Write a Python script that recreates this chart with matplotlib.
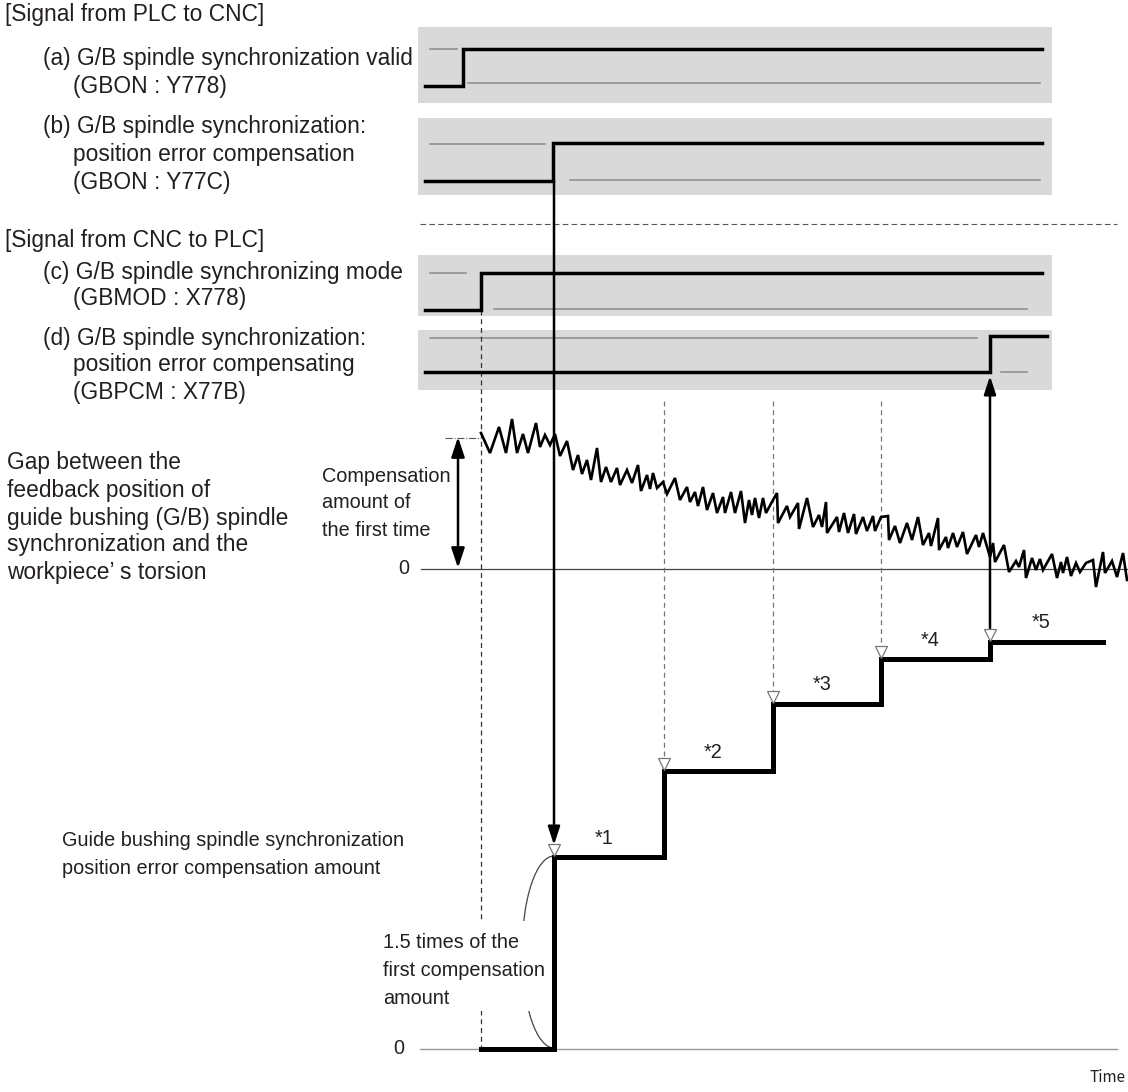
import matplotlib.pyplot as plt
from matplotlib.patches import Rectangle, Arc

plt.rcParams['font.family'] = ['Liberation Sans', 'DejaVu Sans']

# switching points of the four signals (along the time axis)
a_on, b_on, c_on, d_on = 463, 553, 481, 990

# compensation amount staircase
step_x = [481, 554, 664, 773, 881, 990, 1103]
step_y = [1049, 857, 771, 704, 659, 642, 642]
step_labels = ['*1', '*2', '*3', '*4', '*5']

# gap between feedback position and workpiece torsion
gap_x = [481, 490, 499, 506, 512, 517, 523, 528, 536, 540, 545, 550, 555, 560, 567, 573,
         578, 582, 587, 591, 597, 601, 606, 611, 617, 620, 627, 632, 638, 641, 647, 650,
         653, 657, 663, 667, 675, 680, 687, 690, 695, 698, 703, 707, 713, 717, 723, 725,
         731, 735, 741, 745, 749, 752, 755, 759, 763, 766, 773, 777, 778, 787, 790, 798,
         799, 807, 813, 819, 822, 826, 827, 837, 839, 844, 848, 854, 856, 863, 867, 873,
         875, 881, 888, 889, 895, 900, 907, 912, 918, 923, 929, 931, 938, 939, 946, 948,
         953, 957, 963, 967, 976, 979, 983, 990, 993, 995, 1004, 1009, 1016, 1019, 1024,
         1026, 1032, 1036, 1040, 1043, 1052, 1057, 1061, 1063, 1067, 1071, 1076, 1080,
         1086, 1093, 1096, 1103, 1105, 1112, 1117, 1123, 1127]
gap_y = [433, 453, 427, 453, 419, 453, 434, 453, 423, 447, 435, 445, 434, 456, 441, 470,
         455, 474, 460, 480, 448, 482, 467, 482, 468, 485, 470, 483, 465, 491, 475, 489,
         473, 488, 482, 494, 478, 500, 487, 502, 492, 506, 487, 510, 493, 513, 497, 513,
         492, 513, 491, 523, 500, 515, 498, 518, 498, 513, 500, 493, 523, 506, 517, 503,
         529, 498, 527, 515, 527, 502, 533, 517, 532, 513, 533, 514, 534, 517, 531, 516,
         531, 517, 516, 540, 526, 543, 523, 540, 517, 545, 533, 546, 518, 550, 537, 548,
         533, 547, 532, 554, 535, 547, 533, 557, 543, 562, 545, 572, 561, 567, 550,
         578, 558, 570, 559, 570, 554, 578, 562, 573, 557, 576, 563, 572,
         563, 560, 587, 552, 573, 561, 577, 553, 580]

ink = '#231f20'
panel_c = '#d9d9d9'
thin_c = '#8a8a8a'

fig = plt.figure(figsize=(11.28, 10.92), dpi=100)
ax = fig.add_axes([0, 0, 1, 1])
ax.set_xlim(0, 1128)
ax.set_ylim(1092, 0)
ax.axis('off')


def signal(top, bot, hi, lo, t_on, x_end, ghi, glo):
    ax.add_patch(Rectangle((418, top), 1052 - 418, bot - top, color=panel_c, lw=0, zorder=0))
    ax.plot([ghi[0], ghi[1]], [ghi[2], ghi[2]], color=thin_c, lw=1.1, zorder=1)
    ax.plot([glo[0], glo[1]], [glo[2], glo[2]], color=thin_c, lw=1.1, zorder=1)
    ax.plot([425, t_on, t_on, x_end], [lo, lo, hi, hi], color='black', lw=2.5,
            solid_joinstyle='miter', zorder=3)


signal(27, 103, 49, 86, a_on, 1042, (430, 457, 49), (468, 1040, 83))
signal(118, 195, 143, 181, b_on, 1042, (430, 545, 144), (570, 1040, 180))
signal(255, 316, 273, 310, c_on, 1042, (430, 466, 273), (494, 1027, 309))
signal(330, 390, 336, 372, d_on, 1047, (430, 977, 338), (1001, 1027, 372))

# separator between the two signal groups
ax.plot([420, 1117], [224, 224], color='#555555', lw=0.8, ls=(0, (5, 3)))

# left-hand labels
big = 16.4
left_text = [
    ('[Signal from PLC to CNC]', 5, 14),
    ('(a) G/B spindle synchronization valid', 43, 59),
    ('(GBON : Y778)', 73, 86),
    ('(b) G/B spindle synchronization:', 43, 126),
    ('position error compensation', 73, 155),
    ('(GBON : Y77C)', 73, 183),
    ('[Signal from CNC to PLC]', 5, 241),
    ('(c) G/B spindle synchronizing mode', 43, 272),
    ('(GBMOD : X778)', 73, 298),
    ('(d) G/B spindle synchronization:', 43, 338),
    ('position error compensating', 73, 365),
    ('(GBPCM : X77B)', 73, 392),
    ('Gap between the', 7, 462),
    ('feedback position of', 7, 490),
    ('guide bushing (G/B) spindle', 7, 518),
    ('synchronization and the', 7, 545),
    ('workpiece\u2019 s torsion', 7, 573),
]
for s, x, y in left_text:
    ax.text(x, y, s, fontsize=big, color=ink, ha='left', va='center')

small = 14.3
for s, y in [('Compensation', 477), ('amount of', 503), ('the first time', 530)]:
    ax.text(322, y, s, fontsize=small, color=ink, ha='left', va='center')
ax.text(62, 841, 'Guide bushing spindle synchronization', fontsize=small, color=ink, va='center')
ax.text(62, 868, 'position error compensation amount', fontsize=small, color=ink, va='center')

# gap trace and its zero line
ax.plot([421, 1128], [569, 569], color='#444444', lw=0.9, zorder=1)
ax.text(404, 568, '0', fontsize=small, color=ink, ha='center', va='center')
ax.plot(gap_x, gap_y, color='black', lw=1.9, solid_joinstyle='miter', zorder=3)
ax.plot([445, 481], [438, 438], color='#555555', lw=0.8, ls='-.')
ax.annotate('', xy=(458, 437), xytext=(458, 568),
            arrowprops=dict(arrowstyle='<|-|>,head_length=0.6,head_width=0.2', color='black',
                            lw=1.8, mutation_scale=20, shrinkA=0, shrinkB=0))

# time reference lines
ax.plot([c_on, c_on], [310, 1049], color='#333333', lw=0.9, ls=(0, (4, 3)), zorder=1)
for i in range(2, 5):
    ax.plot([step_x[i], step_x[i]], [401, step_y[i] - 13], color='#777777', lw=0.9,
            ls=(0, (4, 3)), zorder=1)

# bottom staircase
ax.plot([420, 1117], [step_y[0], step_y[0]], color='#999999', lw=1.0, zorder=1)
ax.text(399, 1049, '0', fontsize=small, color=ink, ha='center', va='center')
ax.step(step_x, step_y, where='post', color='black', lw=3.6, solid_joinstyle='miter', zorder=4)
ax.plot(step_x[1:6], [y - 7 for y in step_y[1:6]], ls='none', marker='v', ms=9,
        mfc='white', mec='#777777', mew=0.9, zorder=5)
for i, s in enumerate(step_labels):
    mid = (step_x[i + 1] + step_x[i + 2]) / 2
    ax.text(mid - 5, step_y[i + 1] - 19, s, fontsize=small, color=ink, ha='center', va='center')

# arrows linking (b) to *1 and *5 to (d)
ax.annotate('', xy=(b_on + 1, 845), xytext=(b_on + 1, 181),
            arrowprops=dict(arrowstyle='-|>,head_length=0.55,head_width=0.18', color='black',
                            lw=1.8, mutation_scale=20, shrinkA=0, shrinkB=0), zorder=4)
ax.annotate('', xy=(d_on, 376), xytext=(d_on, 628),
            arrowprops=dict(arrowstyle='-|>,head_length=0.55,head_width=0.18', color='black',
                            lw=1.8, mutation_scale=20, shrinkA=0, shrinkB=0), zorder=4)

# brace for the first jump and its note
ax.add_patch(Arc((554, 952), 64, 192, theta1=90, theta2=270, color='#444444', lw=0.9, zorder=2))
ax.add_patch(Rectangle((380, 921), 166, 90, color='white', lw=0, zorder=6))
for s, y in [('1.5 times of the', 942), ('first compensation', 970), ('amount', 998)]:
    ax.text(383, y, s, fontsize=small, color=ink, ha='left', va='center', zorder=7)

ax.text(1126, 1077, 'Time', fontsize=11, color=ink, ha='right', va='center',
        family=['Noto Sans CJK JP', 'DejaVu Sans'])

fig.savefig('out.png', dpi=100)
